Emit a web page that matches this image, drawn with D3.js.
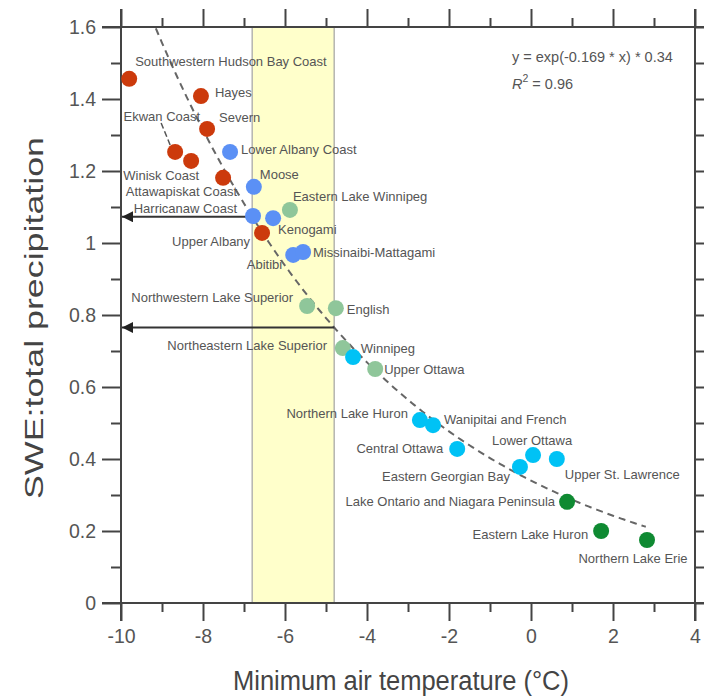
<!DOCTYPE html>
<html>
<head>
<meta charset="utf-8">
<script src="https://cdn.jsdelivr.net/npm/d3@7"></script>
<style>
  html, body { margin: 0; padding: 0; background: #fff; }
  svg { display: block; font-family: "Liberation Sans", Arial, sans-serif; }
</style>
</head>
<body>
<svg id="chart" width="704" height="698"></svg>
<script>
// Basin names, minimum air temperature (°C) and SWE : total precipitation ratio
const basins = [
  "Southwestern Hudson Bay Coast", "Hayes", "Severn", "Ekwan Coast", "Winisk Coast",
  "Attawapiskat Coast", "Kenogami",
  "Lower Albany Coast", "Moose", "Harricanaw Coast", "Upper Albany", "Abitibi",
  "Missinaibi-Mattagami",
  "Eastern Lake Winnipeg", "Northwestern Lake Superior", "English", "Winnipeg", "Upper Ottawa",
  "Northeastern Lake Superior", "Northern Lake Huron", "Wanipitai and French", "Central Ottawa",
  "Eastern Georgian Bay", "Lower Ottawa", "Upper St. Lawrence",
  "Lake Ontario and Niagara Peninsula", "Eastern Lake Huron", "Northern Lake Erie"
];
const minTemp = [
  -9.80, -8.05, -7.90, -8.68, -8.29, -7.51, -6.56,
  -7.34, -6.76, -6.78, -6.29, -5.80, -5.56,
  -5.88, -5.46, -4.76, -4.59, -3.80,
  -4.34, -2.71, -2.39, -1.80, -0.27, 0.05, 0.63,
  0.88, 1.71, 2.83
];
const sweRatio = [
  1.456, 1.408, 1.317, 1.253, 1.228, 1.181, 1.028,
  1.253, 1.156, 1.075, 1.069, 0.967, 0.975,
  1.092, 0.825, 0.819, 0.708, 0.650,
  0.683, 0.508, 0.494, 0.428, 0.378, 0.411, 0.400,
  0.281, 0.200, 0.175
];
const regionGroup = [
  0, 0, 0, 0, 0, 0, 0,
  1, 1, 1, 1, 1, 1,
  2, 2, 2, 2, 2,
  3, 3, 3, 3, 3, 3, 3,
  4, 4, 4
];

// Exponential fit: y = exp(b * x) * a
const fitA = 0.34;
const fitB = -0.169;
const fitR2 = 0.96;
const fitRange = [-9.15, 2.83];

// Highlighted temperature band
const bandRange = [-6.8, -4.8];

const xTicks = [-10, -8, -6, -4, -2, 0, 2, 4];
const xMinorTicks = [-9, -7, -5, -3, -1, 1, 3];
const yTicks = [0, 0.2, 0.4, 0.6, 0.8, 1.0, 1.2, 1.4, 1.6];
const yMinorTicks = [0.1, 0.3, 0.5, 0.7, 0.9, 1.1, 1.3, 1.5];

// ---------- layout ----------
const groupColors = ["#cc3a0c", "#5b90f5", "#8fc69a", "#00c2f5", "#0f8a32"];
// label placement relative to each point: [dx, dy, anchor]
const labelLayout = [
  [6, -17, "start"], [14, -4, "start"], [12, -11, "start"], [25, -35, "end"], [8, 15, "end"],
  [14, 14, "end"], [16, -3, "start"],
  [11, -2, "start"], [6, -12, "start"], [-16, -8, "end"], [-23, 23, "end"], [-11, 10, "end"],
  [10, 0, "start"],
  [3, -13, "start"], [-14, -9, "end"], [11, 1, "start"], [18, 0, "start"], [9, 0, "start"],
  [-26, -12, "end"], [-12, -7, "end"], [11, -6, "start"], [-14, 0, "end"],
  [-10, 10, "end"], [-1, -15, "middle"], [8, 15, "start"],
  [-12, 0, "end"], [-13, 3, "end"], [-14, 18, "middle"]
];

const svg = d3.select("#chart");
const x = d3.scaleLinear().domain([-10, 4]).range([121, 695]);
const y = d3.scaleLinear().domain([0, 1.6]).range([603, 27]);
const color = d3.scaleOrdinal().domain([0, 1, 2, 3, 4]).range(groupColors);
const fit = t => Math.exp(fitB * t) * fitA;

const axisColor = "#444";
const textColor = "#555";
const majorLen = 18, minorLen = 9;

// band
svg.append("rect")
  .attr("x", x(bandRange[0]))
  .attr("y", y(1.6))
  .attr("width", x(bandRange[1]) - x(bandRange[0]))
  .attr("height", y(0) - y(1.6))
  .attr("fill", "#ffffcb");
bandRange.forEach(v => {
  svg.append("line")
    .attr("x1", x(v)).attr("x2", x(v))
    .attr("y1", y(1.6)).attr("y2", y(0))
    .attr("stroke", "#b5b5b0").attr("stroke-width", 1.5);
});

// axes: ticks on all four sides
function styleAxis(g) {
  g.select(".domain").remove();
  g.selectAll(".tick line").attr("stroke", axisColor).attr("stroke-width", 2);
  g.selectAll(".tick text").attr("fill", textColor).attr("font-size", 19.5)
    .attr("font-family", "Liberation Sans, Arial, sans-serif");
}
const plainNum = d => String(+d.toFixed(1));
const axisBottomG = svg.append("g").attr("transform", `translate(0,${y(0)})`);
axisBottomG.append("g").call(d3.axisBottom(x).tickValues(xTicks).tickSize(majorLen).tickPadding(8).tickFormat(plainNum)).call(styleAxis);
axisBottomG.append("g").call(d3.axisBottom(x).tickValues(xMinorTicks).tickSize(minorLen).tickFormat("")).call(styleAxis);

const axisTopG = svg.append("g").attr("transform", `translate(0,${y(1.6)})`);
axisTopG.append("g").call(d3.axisTop(x).tickValues(xTicks).tickSize(majorLen).tickFormat("")).call(styleAxis);
axisTopG.append("g").call(d3.axisTop(x).tickValues(xMinorTicks).tickSize(minorLen).tickFormat("")).call(styleAxis);

const axisLeftG = svg.append("g").attr("transform", `translate(${x(-10)},0)`);
axisLeftG.append("g").call(d3.axisLeft(y).tickValues(yTicks).tickSize(19).tickPadding(6).tickFormat(plainNum)).call(styleAxis);
axisLeftG.append("g").call(d3.axisLeft(y).tickValues(yMinorTicks).tickSize(10).tickFormat("")).call(styleAxis);

const axisRightG = svg.append("g").attr("transform", `translate(${x(4)},0)`);
axisRightG.append("g").call(d3.axisRight(y).tickValues(yTicks).tickSize(majorLen).tickFormat("")).call(styleAxis);
axisRightG.append("g").call(d3.axisRight(y).tickValues(yMinorTicks).tickSize(minorLen).tickFormat("")).call(styleAxis);

// frame lines
const frame = svg.append("g").attr("stroke", axisColor).attr("stroke-width", 2);
[0, 1.6].forEach(v => frame.append("line")
  .attr("x1", x(-10) - 19).attr("x2", 704).attr("y1", y(v)).attr("y2", y(v)));
[-10, 4].forEach(v => frame.append("line")
  .attr("x1", x(v)).attr("x2", x(v)).attr("y1", y(1.6) - majorLen).attr("y2", y(0) + majorLen));

// axis titles
svg.append("text")
  .attr("x", 401).attr("y", 690)
  .attr("text-anchor", "middle")
  .attr("font-size", 27).attr("fill", "#444")
  .attr("textLength", 336).attr("lengthAdjust", "spacingAndGlyphs")
  .text("Minimum air temperature (°C)");
svg.append("text")
  .attr("transform", "translate(43,318) rotate(-90)")
  .attr("text-anchor", "middle")
  .attr("font-size", 26).attr("fill", "#444")
  .attr("textLength", 362).attr("lengthAdjust", "spacingAndGlyphs")
  .text("SWE:total precipitation");

// fitted curve
const curvePts = d3.range(fitRange[0], fitRange[1] + 1e-9, 0.05).map(t => [t, fit(t)]);
svg.append("path")
  .datum(curvePts)
  .attr("fill", "none")
  .attr("stroke", "#666")
  .attr("stroke-width", 2)
  .attr("stroke-dasharray", "7,5")
  .attr("d", d3.line().x(d => x(d[0])).y(d => y(d[1])));

// arrows from band edges on the curve to the ratio axis
svg.append("defs").append("marker")
  .attr("id", "arrowhead")
  .attr("viewBox", "0 0 10 10")
  .attr("refX", 10).attr("refY", 5)
  .attr("markerUnits", "userSpaceOnUse")
  .attr("markerWidth", 12).attr("markerHeight", 11)
  .attr("orient", "auto")
  .append("path").attr("d", "M0,0 L10,5 L0,10 z").attr("fill", "#222");
bandRange.forEach(v => {
  svg.append("line")
    .attr("x1", x(v)).attr("y1", y(fit(v)))
    .attr("x2", x(-10) + 1).attr("y2", y(fit(v)))
    .attr("stroke", "#333").attr("stroke-width", 2)
    .attr("marker-end", "url(#arrowhead)");
});

// leader line for Ekwan Coast
const ek = basins.indexOf("Ekwan Coast");
svg.append("line")
  .attr("x1", x(minTemp[ek]) - 14).attr("y1", y(sweRatio[ek]) - 29)
  .attr("x2", x(minTemp[ek]) - 5).attr("y2", y(sweRatio[ek]) - 7)
  .attr("stroke", "#555").attr("stroke-width", 1.5).attr("stroke-dasharray", "6,3");

// points
const idx = d3.range(basins.length);
svg.append("g").selectAll("circle")
  .data(idx)
  .join("circle")
  .attr("cx", i => x(minTemp[i]))
  .attr("cy", i => y(sweRatio[i]))
  .attr("r", 8)
  .attr("fill", i => color(regionGroup[i]));

// basin labels
svg.append("g").selectAll("text")
  .data(idx)
  .join("text")
  .attr("x", i => x(minTemp[i]) + labelLayout[i][0])
  .attr("y", i => y(sweRatio[i]) + labelLayout[i][1])
  .attr("dy", "0.35em")
  .attr("text-anchor", i => labelLayout[i][2])
  .attr("font-size", 13)
  .attr("fill", textColor)
  .text(i => basins[i]);

// equation and R²
const eq = svg.append("g").attr("fill", textColor).attr("font-size", 14.5);
eq.append("text").attr("x", 512).attr("y", 62)
  .text(`y = exp(${fitB} * x) * ${fitA}`);
const r2 = eq.append("text").attr("x", 512).attr("y", 89);
r2.append("tspan").attr("font-style", "italic").text("R");
r2.append("tspan").attr("dy", -7).attr("font-size", 10.5).text("2");
r2.append("tspan").attr("dy", 7).text(` = ${fitR2}`);
</script>
</body>
</html>
